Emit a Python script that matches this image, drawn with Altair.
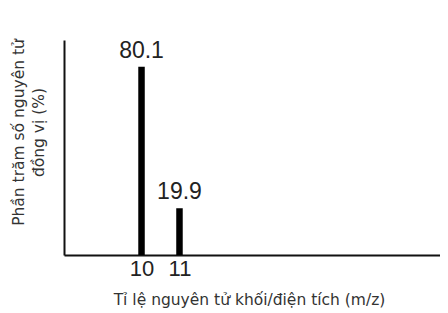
import altair as alt
import pandas as pd

mz = [10, 11]
percent = [80.1, 19.9]
labels = ["80.1", "19.9"]

df = pd.DataFrame({"mz": mz, "percent": percent, "label": labels})

x = alt.X("mz:Q", scale=alt.Scale(domain=[8.09, 17.73], nice=False, zero=False),
          axis=alt.Axis(values=mz, format="d", ticks=False, grid=False, domain=True,
                        domainColor="#111", domainWidth=2, labelFontSize=22,
                        labelColor="#222", labelPadding=3, labelFont="Liberation Sans",
                        title="Tỉ lệ nguyên tử khối/điện tích (m/z)", titleFontSize=15.5,
                        titleFontWeight="normal", titleColor="#333", titleFont="DejaVu Sans",
                        titlePadding=13, titleX=185))
y = alt.Y("percent:Q", scale=alt.Scale(domain=[0, 91.5], nice=False),
          axis=alt.Axis(labels=False, ticks=False, grid=False, domain=True,
                        domainColor="#111", domainWidth=2,
                        title=["Phần trăm số nguyên tử", "đồng vị (%)"], titleFontSize=15.5,
                        titleFontWeight="normal", titleColor="#333", titleFont="DejaVu Sans",
                        titleLineHeight=20, titleX=-46, titleY=92, titleBaseline="middle",
                        titleAlign="center", titleAngle=270))

bars = alt.Chart(df).mark_bar(color="black", size=6.5).encode(x=x, y=y)
text = alt.Chart(df).mark_text(baseline="bottom", dy=-4, fontSize=23, color="#222",
                               font="Liberation Sans").encode(x="mz:Q", y="percent:Q", text="label:N")

chart = (bars + text).properties(
    width=376, height=215,
    autosize=alt.AutoSizeParams(type="none"),
    padding={"left": 56, "top": 32, "right": 0, "bottom": 54},
).configure(background="white").configure_view(strokeWidth=0)

chart.save("out.html", embed_options={"renderer": "svg", "actions": False})
